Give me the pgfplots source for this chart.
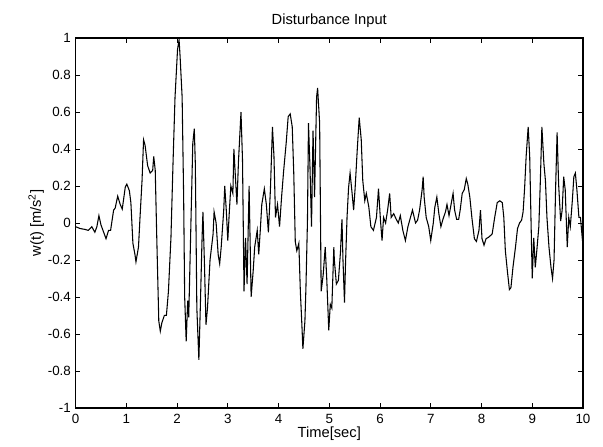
\documentclass[border=0pt]{standalone}
\usepackage{fontspec}
\setmainfont{Liberation Sans}
\usepackage{pgfplots}
\pgfplotsset{compat=1.18}
\begin{document}
\begin{tikzpicture}
\begin{axis}[
  name=ax,
  scale only axis,
  width=380pt, height=277pt,
  xmin=0, xmax=10, ymin=-1, ymax=1,
  xtick={0,1,...,10},
  ytick={-1,-0.8,-0.6,-0.4,-0.2,0,0.2,0.4,0.6,0.8,1},
  yticklabels={-1,-0.8,-0.6,-0.4,-0.2,0,0.2,0.4,0.6,0.8,1},
  tick align=inside,
  major tick length=3.5pt,
  tick style={black, line width=0.6pt},
  axis line style={line width=0.9pt},
  /pgf/number format/assume math mode=true,
  tick label style={font=\fontsize{10}{12}\selectfont},
  xticklabel style={yshift=-1pt},
  label style={font=\fontsize{11}{13}\selectfont},
  title style={font=\fontsize{11}{13}\selectfont, yshift=-2pt},
  title={Disturbance Input},
  xlabel={Time[sec]},
  ylabel={w(t) [m/s\textsuperscript{2}]},
  xlabel style={yshift=4pt},
  ylabel style={yshift=-4pt},
]
\addplot[black, line width=0.8pt] coordinates {
(0,-0.02)(0.09,-0.03)(0.19,-0.035)(0.25,-0.04)(0.32,-0.02)(0.38,-0.05)(0.42,-0.02)(0.46,0.04)(0.50,-0.01)(0.54,-0.04)
(0.60,-0.085)(0.65,-0.04)(0.69,-0.04)(0.75,0.07)(0.78,0.08)(0.83,0.145)(0.88,0.10)(0.92,0.075)(0.98,0.195)(1.01,0.21)
(1.06,0.175)(1.09,0.11)(1.13,-0.11)(1.17,-0.17)(1.19,-0.21)(1.24,-0.13)(1.27,0.03)(1.31,0.23)(1.34,0.45)(1.37,0.42)
(1.42,0.31)(1.47,0.27)(1.52,0.285)(1.54,0.36)(1.57,0.285)(1.60,-0.077)(1.64,-0.53)(1.67,-0.585)(1.70,-0.54)(1.75,-0.50)
(1.79,-0.50)(1.83,-0.37)(1.88,-0.077)(1.92,0.32)(1.96,0.68)(2.01,0.94)(2.04,0.99)(2.06,0.90)(2.10,0.68)(2.13,0.14)
(2.15,-0.40)(2.18,-0.64)(2.21,-0.42)(2.23,-0.51)(2.27,-0.04)(2.31,0.43)(2.34,0.51)(2.36,0.32)(2.39,-0.46)(2.43,-0.74)
(2.46,-0.44)(2.49,-0.11)(2.51,0.06)(2.54,-0.22)(2.57,-0.55)(2.60,-0.46)(2.65,-0.20)(2.71,-0.06)(2.73,0.06)(2.77,0.00)
(2.81,-0.17)(2.84,-0.22)(2.87,-0.13)(2.92,0.07)(2.94,0.20)(2.97,0.07)(3.00,-0.095)(3.03,0.06)(3.06,0.20)(3.10,0.16)
(3.12,0.40)(3.15,0.25)(3.18,0.10)(3.21,0.33)(3.26,0.60)(3.29,0.34)(3.32,-0.37)(3.35,-0.08)(3.38,-0.33)(3.42,0.20)
(3.46,-0.40)(3.50,-0.26)(3.53,-0.13)(3.58,-0.04)(3.61,-0.17)(3.64,-0.04)(3.67,0.10)(3.72,0.185)(3.76,0.10)(3.80,-0.05)
(3.84,0.18)(3.88,0.52)(3.91,0.36)(3.94,0.03)(3.98,0.10)(4.02,-0.02)(4.06,0.14)(4.10,0.28)(4.15,0.43)(4.19,0.575)
(4.23,0.59)(4.27,0.52)(4.30,0.27)(4.33,-0.10)(4.36,-0.15)(4.40,-0.11)(4.43,-0.37)(4.46,-0.55)(4.48,-0.68)(4.52,-0.53)
(4.54,-0.35)(4.57,0.01)(4.59,0.54)(4.62,0.30)(4.65,-0.02)(4.68,0.50)(4.71,0.14)(4.75,0.68)(4.77,0.73)(4.81,0.54)
(4.84,-0.37)(4.88,-0.28)(4.92,-0.13)(4.95,-0.30)(4.99,-0.58)(5.02,-0.44)(5.05,-0.46)(5.09,-0.13)(5.10,-0.20)(5.14,-0.33)
(5.18,-0.31)(5.22,-0.16)(5.25,0.02)(5.27,-0.20)(5.30,-0.43)(5.32,-0.22)(5.35,0.03)(5.38,0.19)(5.41,0.27)(5.45,0.16)
(5.48,0.07)(5.51,0.19)(5.55,0.39)(5.59,0.57)(5.63,0.45)(5.66,0.23)(5.70,0.12)(5.73,0.16)(5.78,0.085)(5.82,-0.02)
(5.87,-0.04)(5.93,0.03)(5.97,0.185)(6.01,0.01)(6.04,-0.095)(6.07,0.03)(6.11,0.00)(6.15,0.07)(6.19,0.16)(6.22,0.03)
(6.27,0.05)(6.32,0.02)(6.36,0.00)(6.40,0.04)(6.45,-0.04)(6.50,-0.095)(6.55,-0.02)(6.60,0.03)(6.64,0.07)(6.70,0.00)
(6.74,0.015)(6.78,0.07)(6.83,0.18)(6.85,0.25)(6.87,0.14)(6.91,0.03)(6.96,-0.02)(7.00,-0.095)(7.05,0.00)(7.08,0.085)
(7.12,0.14)(7.16,0.05)(7.20,-0.02)(7.24,0.02)(7.29,0.06)(7.32,0.10)(7.36,0.04)(7.40,0.10)(7.44,0.16)(7.47,0.07)
(7.51,0.02)(7.55,0.02)(7.58,0.07)(7.62,0.16)(7.66,0.18)(7.70,0.24)(7.73,0.21)(7.77,0.14)(7.81,0.03)(7.86,-0.085)
(7.90,-0.10)(7.95,-0.04)(7.98,0.07)(8.01,-0.085)(8.05,-0.12)(8.09,-0.085)(8.14,-0.077)(8.21,-0.06)(8.26,0.03)(8.31,0.11)
(8.36,0.12)(8.41,0.11)(8.44,0.03)(8.47,-0.15)(8.51,-0.26)(8.55,-0.36)(8.58,-0.35)(8.62,-0.24)(8.67,-0.13)(8.71,-0.03)
(8.75,0.00)(8.79,0.015)(8.82,0.06)(8.85,0.19)(8.88,0.36)(8.92,0.52)(8.95,0.36)(8.98,-0.04)(9.00,-0.30)(9.03,-0.08)
(9.06,-0.24)(9.09,-0.15)(9.13,-0.02)(9.16,0.23)(9.19,0.52)(9.23,0.32)(9.26,0.23)(9.29,0.03)(9.33,-0.13)(9.37,-0.24)
(9.40,-0.30)(9.43,-0.20)(9.46,0.18)(9.49,0.49)(9.52,0.21)(9.56,0.01)(9.59,0.07)(9.62,0.25)(9.65,0.18)(9.69,-0.13)
(9.72,0.03)(9.75,-0.02)(9.79,0.12)(9.82,0.25)(9.85,0.27)(9.88,0.18)(9.92,0.03)(9.95,0.03)(9.99,-0.095)(10.0,-0.10)
};
\end{axis}
\path[use as bounding box] ([shift={(-56.6pt,-29pt)}]ax.south west) rectangle ([shift={(15pt,28.5pt)}]ax.north east);
\end{tikzpicture}
\end{document}
